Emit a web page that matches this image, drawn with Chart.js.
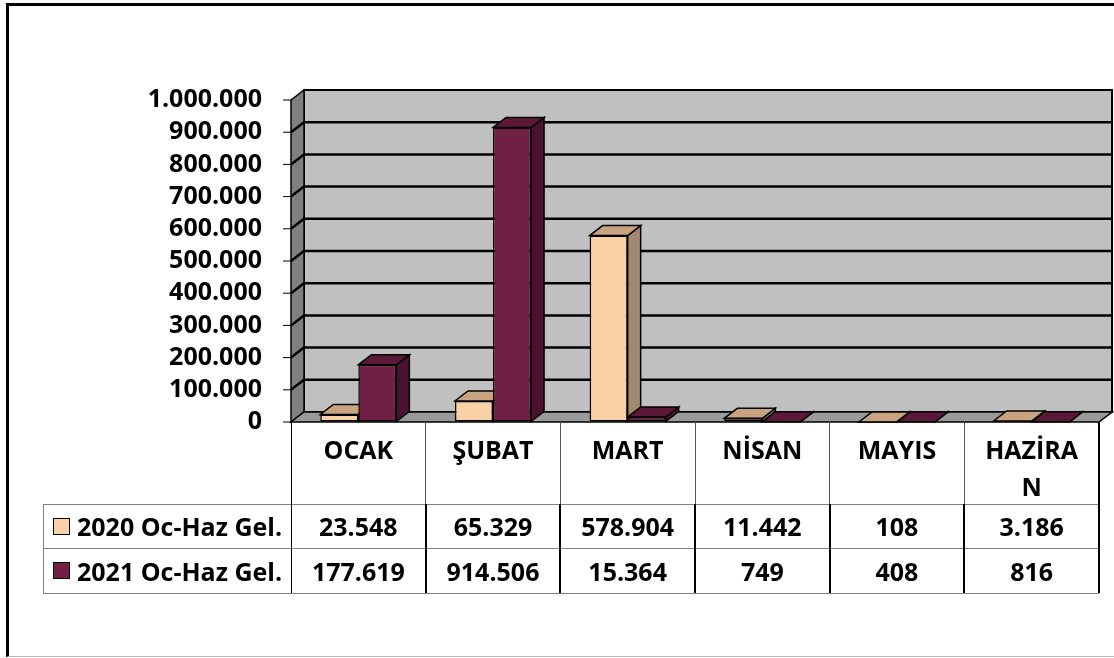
<!DOCTYPE html>
<html>
<head>
<meta charset="utf-8">
<script src="https://cdn.jsdelivr.net/npm/chart.js@4.4.1/dist/chart.umd.min.js"></script>
<style>
  html, body { margin: 0; padding: 0; background: #fff; }
  #wrap { position: relative; width: 1114px; height: 658px; overflow: hidden; font-family: "Open Sans", Lato, sans-serif; font-weight: bold; }
  #frame { position: absolute; left: 6px; top: 3px; width: 1200px; height: 654px; box-sizing: border-box;
           border-top: 3px solid #000; border-left: 3px solid #000; border-bottom: 1px solid #bbb; }
  canvas { position: absolute; left: 0; top: 0; }
  .cell { position: absolute; box-sizing: border-box; font-size: 25px; color: #000; }
  .num { display: flex; align-items: center; justify-content: center; }
  .head { text-align: center; line-height: 37px; padding-top: 9px; }
  .head span { display: inline-block; width: 102px; word-break: break-all; }
  .ln { position: absolute; }
  .sw { position: absolute; width: 15px; height: 15px; border: 1px solid #000; }
</style>
</head>
<body>
<div id="wrap">
  <div id="frame"></div>
  <canvas id="chart" width="1114" height="658"></canvas>
</div>
<script>
// veriler
const categories = ["OCAK", "ŞUBAT", "MART", "NİSAN", "MAYIS", "HAZİRAN"];
const seriesNames = ["2020 Oc-Haz Gel.", "2021 Oc-Haz Gel."];
const values2020 = [23548, 65329, 578904, 11442, 108, 3186];
const values2021 = [177619, 914506, 15364, 749, 408, 816];
const yTicks = [0, 100000, 200000, 300000, 400000, 500000, 600000, 700000, 800000, 900000, 1000000];

const DX = 13, DY = 10; // derinlik
const colors = [
    { front: "#FAD0A6", top: "#C9A27F", side: "#A28870" },
    { front: "#701F45", top: "#5C1839", side: "#4B1230" }
];

function fmt(v) {
    return String(v).replace(/\B(?=(\d{3})+(?!\d))/g, ".");
}

function poly(ctx, pts, fill, stroke, lw) {
    ctx.beginPath();
    ctx.moveTo(pts[0][0], pts[0][1]);
    for (let i = 1; i < pts.length; i++) ctx.lineTo(pts[i][0], pts[i][1]);
    ctx.closePath();
    if (fill) { ctx.fillStyle = fill; ctx.fill(); }
    if (stroke) { ctx.strokeStyle = stroke; ctx.lineWidth = lw || 1; ctx.stroke(); }
}

const box3d = {
    id: "box3d",
    beforeDatasetsDraw(chart) {
        const ctx = chart.ctx;
        const a = chart.chartArea;
        const y = chart.scales.y;
        ctx.save();
        // arka duvar
        poly(ctx, [[a.left + DX, a.top - DY], [a.right + DX, a.top - DY], [a.right + DX, a.bottom - DY], [a.left + DX, a.bottom - DY]], "#C0C0C0", "#000", 2);
        // yan duvar
        poly(ctx, [[a.left, a.top], [a.left + DX, a.top - DY], [a.left + DX, a.bottom - DY], [a.left, a.bottom]], "#808080", "#000", 1.5);
        // zemin
        poly(ctx, [[a.left, a.bottom], [a.right, a.bottom], [a.right + DX, a.bottom - DY], [a.left + DX, a.bottom - DY]], "#9A9A9A", "#000", 1.5);
        // ızgara çizgileri ve işaretler
        yTicks.forEach(v => {
            const py = y.getPixelForValue(v);
            ctx.strokeStyle = "#000";
            if (v > 0 && v < yTicks[yTicks.length - 1]) {
                ctx.lineWidth = 2.5;
                ctx.beginPath();
                ctx.moveTo(a.left, py);
                ctx.lineTo(a.left + DX, py - DY);
                ctx.lineTo(a.right + DX, py - DY);
                ctx.stroke();
            }
            ctx.lineWidth = 1;
            ctx.beginPath();
            ctx.moveTo(a.left - 8, py);
            ctx.lineTo(a.left, py);
            ctx.stroke();
        });
        // çubukların üst ve yan yüzleri (soldan sağa)
        const faces = [];
        chart.data.datasets.forEach((ds, d) => {
            chart.getDatasetMeta(d).data.forEach(bar => {
                faces.push({ bar, c: colors[d] });
            });
        });
        faces.sort((p, q) => p.bar.x - q.bar.x);
        faces.forEach(({ bar, c }) => {
            const x0 = bar.x - bar.width / 2, x1 = bar.x + bar.width / 2;
            const yt = bar.y, yb = bar.base;
            poly(ctx, [[x1, yt], [x1 + DX, yt - DY], [x1 + DX, yb - DY], [x1, yb]], c.side, "#000", 1.5);
            poly(ctx, [[x0, yt], [x1, yt], [x1 + DX, yt - DY], [x0 + DX, yt - DY]], c.top, "#000", 1.5);
        });
        ctx.restore();
    }
};

function line(wrap, x, y, w, h, color) {
    const el = document.createElement("div");
    el.className = "ln";
    el.style.cssText = `left:${x}px;top:${y}px;width:${w}px;height:${h}px;background:${color}`;
    wrap.appendChild(el);
}

function cell(wrap, cls, x, y, w, h, html) {
    const el = document.createElement("div");
    el.className = "cell " + cls;
    el.style.cssText = `left:${x}px;top:${y}px;width:${w}px;height:${h}px`;
    el.innerHTML = html;
    wrap.appendChild(el);
    return el;
}

function buildTable(chart) {
    const wrap = document.getElementById("wrap");
    const a = chart.chartArea;
    const xs = chart.scales.x;
    const colW = (a.right - a.left) / categories.length;
    const rows = [504, 548, 593];
    const legL = 43;

    categories.forEach((cat, i) => {
        const cx = xs.getPixelForValue(i);
        const l = cx - colW / 2;
        cell(wrap, "head", l, a.bottom, colW, rows[0] - a.bottom, `<span>${cat}</span>`);
        cell(wrap, "num", l, rows[0], colW, rows[1] - rows[0], fmt(values2020[i]));
        cell(wrap, "num", l, rows[1], colW, rows[2] - rows[1], fmt(values2021[i]));
    });

    // seri başlıkları
    [values2020, values2021].forEach((_, d) => {
        const top = rows[d], h = rows[d + 1] - rows[d];
        const el = cell(wrap, "", legL, top, a.left - legL, h, "");
        el.style.display = "flex";
        el.style.alignItems = "center";
        el.innerHTML = `<span class="sw" style="position:relative;margin-left:10px;background:${colors[d].front}"></span>` +
                       `<span style="margin-left:7px">${seriesNames[d]}</span>`;
    });

    // çizgiler
    rows.forEach(r => line(wrap, legL, r, a.right - legL, 1, "#808080"));
    line(wrap, legL, rows[0], 1, rows[2] - rows[0], "#808080");
    line(wrap, a.left - 0.5, a.bottom, 1.5, rows[2] - a.bottom, "#000");
    for (let i = 1; i < categories.length; i++) {
        const x = a.left + colW * i;
        line(wrap, x - 0.5, a.bottom, 1, rows[0] - a.bottom, "#555");
        line(wrap, x - 1, rows[0], 2, rows[2] - rows[0], "#000");
    }
    line(wrap, a.right - 1, a.bottom, 2, rows[2] - a.bottom, "#000");
}

function draw() {
    const ctx = document.getElementById("chart").getContext("2d");
    const chart = new Chart(ctx, {
        type: "bar",
        data: {
            labels: categories,
            datasets: [
                { label: seriesNames[0], data: values2020, backgroundColor: colors[0].front, borderColor: "#000", borderWidth: 1.5, borderSkipped: false, categoryPercentage: 0.565, barPercentage: 1 },
                { label: seriesNames[1], data: values2021, backgroundColor: colors[1].front, borderColor: "#000", borderWidth: 1.5, borderSkipped: false, categoryPercentage: 0.565, barPercentage: 1 }
            ]
        },
        options: {
            responsive: false,
            animation: false,
            layout: { padding: { top: 100, right: 15, bottom: 236, left: 0 } },
            plugins: { legend: { display: false }, tooltip: { enabled: false }, title: { display: false } },
            scales: {
                x: { display: false },
                y: {
                    min: 0,
                    max: 1000000,
                    afterFit: s => { s.width = 291; },
                    afterBuildTicks: s => { s.ticks = yTicks.map(v => ({ value: v })); },
                    ticks: {
                        autoSkip: false,
                        callback: v => fmt(v),
                        color: "#000",
                        padding: 29,
                        font: { family: "Open Sans", weight: "bold", size: 25 }
                    },
                    grid: { color: "rgba(0,0,0,0)", drawTicks: false },
                    border: { display: false }
                }
            }
        },
        plugins: [box3d]
    });
    buildTable(chart);
}

document.fonts.load("bold 25px 'Open Sans'").then(draw, draw);
</script>
</body>
</html>
